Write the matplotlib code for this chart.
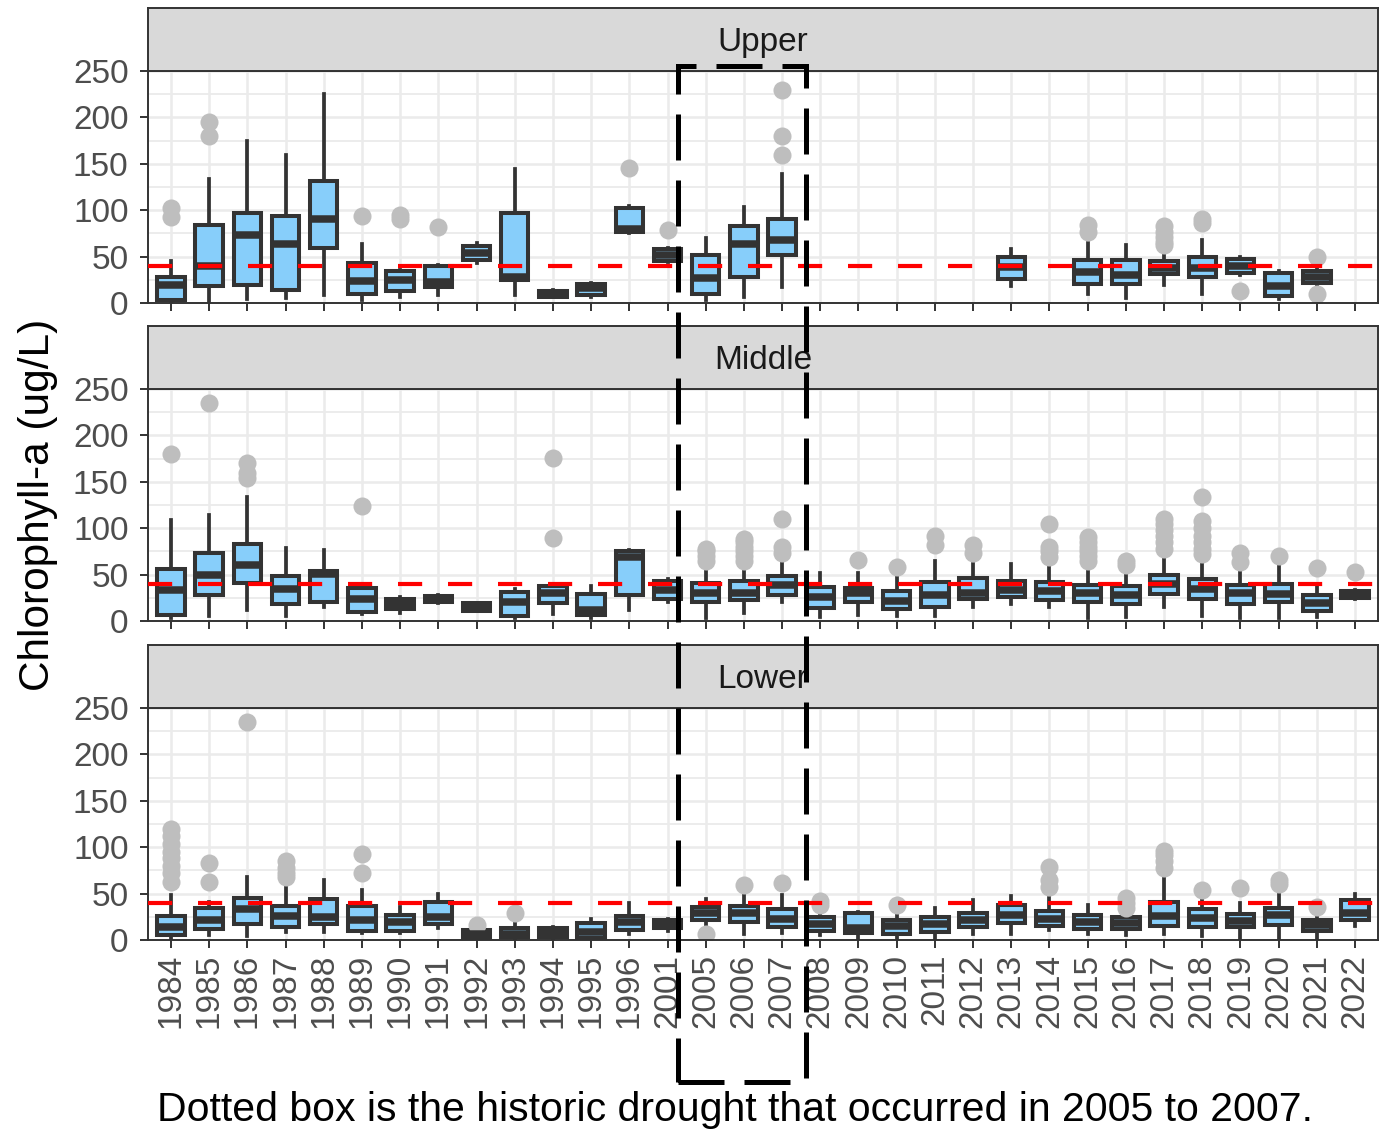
import matplotlib
matplotlib.use('Agg')
import matplotlib.pyplot as plt
from matplotlib.patches import Rectangle

plt.rcParams['font.family'] = ['Liberation Sans', 'DejaVu Sans']

years = ['1984', '1985', '1986', '1987', '1988', '1989', '1990', '1991', '1992',
         '1993', '1994', '1995', '1996', '2001', '2005', '2006', '2007', '2008',
         '2009', '2010', '2011', '2012', '2013', '2014', '2015', '2016', '2017',
         '2018', '2019', '2020', '2021', '2022']

# (whisker low, q1, median, q3, whisker high) per year, None = no samples
upper_box = [
    (0, 3, 19, 28, 45), (1, 18, 40, 84, 134), (4, 19, 73, 97, 175), (5, 14, 64, 94, 159),
    (9, 59, 90, 131, 225), (3, 10, 24, 43, 64), (7, 13, 25, 34, 36), (9, 17, 23, 40, 41),
    (43, 46, 54, 61, 65), (9, 25, 28, 97, 144), (6, 7, 10, 13, 14), (6, 9, 16, 21, 22),
    (75, 76, 80, 102, 104), (44, 45, 52, 58, 59), (3, 10, 27, 52, 70), (7, 28, 64, 83, 103),
    (17, 52, 68, 91, 139), None, None, None, None, None,
    (18, 26, 39, 50, 58), None, (10, 21, 33, 46, 65), (5, 21, 30, 46, 62),
    (19, 31, 38, 45, 59), (10, 28, 38, 50, 68), (30, 32, 40, 47, 50), (4, 8, 18, 32, 35),
    (18, 22, 28, 35, 42), None]
upper_out = [
    [93, 102], [180, 195], [], [], [], [94], [90, 95], [82], [], [], [], [], [145], [79],
    [], [], [159, 180, 230], [], [], [], [], [], [], [], [77, 84], [], [62, 66, 71, 77, 83],
    [86, 91], [13], [], [10, 50], []]

middle_box = [
    (3, 7, 33, 56, 109), (5, 28, 50, 73, 114), (12, 41, 60, 83, 134), (5, 18, 34, 49, 79),
    (15, 21, 51, 54, 76), (8, 10, 24, 36, 38), (9, 13, 18, 24, 26), (19, 20, 23.5, 27, 28),
    (11, 11, 15, 19, 19), (3, 5, 20, 31, 35), (8, 19, 30, 38, 40), (3, 7, 12, 29, 38),
    (12, 28, 69, 75, 77), (20, 24, 33, 43, 45), (3, 21, 30, 41, 56), (9, 23, 30, 43, 61),
    (20, 28, 39, 48, 69), (4, 14, 26, 37, 52), (7, 20, 30, 36, 52), (5, 13, 22, 32, 53),
    (5, 15, 28, 42, 65), (15, 24, 30, 46, 61), (18, 26, 33, 43, 61), (15, 23, 32, 42, 64),
    (3, 20, 30, 39, 58), (4, 18, 28, 38, 58), (15, 29, 40, 50, 75), (5, 24, 34, 45, 69),
    (3, 18, 30, 39, 57), (3, 20, 29, 40, 61), (4, 11, 19, 28, 40), (24, 25, 28, 32, 33)]
middle_out = [
    [180], [235], [154, 159, 170], [], [], [124], [], [], [], [], [89, 176], [], [], [],
    [65, 70, 75, 78], [65, 70, 75, 80, 85, 88], [73, 80, 110], [], [66], [58], [82, 92],
    [73, 82], [], [69, 75, 80, 105], [65, 70, 75, 80, 85, 90], [60, 65],
    [78, 85, 92, 98, 104, 110], [72, 78, 85, 92, 100, 108, 134], [64, 73], [70], [57], [53]]

lower_box = [
    (0, 5, 14, 26, 48), (5, 12, 22, 35, 41), (4, 17, 33, 45, 68), (9, 14, 26, 37, 62),
    (9, 17, 25, 44, 65), (8, 10, 22, 37, 54), (8, 10, 19, 27, 36), (13, 17, 25, 41, 50),
    (0, 2, 6, 11, 12), (0, 3, 7, 13, 18), (0, 3, 8, 13, 14), (0, 2, 9, 18, 23),
    (7, 11, 19, 26, 40), (10, 13, 17, 22, 23), (13, 22, 29, 36, 44), (7, 19, 29, 37, 56),
    (8, 14, 23, 33, 49), (5, 10, 17, 25, 30), (0, 8, 13, 29, 30), (0, 7, 15, 22, 27),
    (0, 9, 17, 25, 35), (7, 14, 22, 29, 43), (7, 18, 27, 38, 47), (11, 15, 23, 31, 45),
    (7, 12, 19, 27, 38), (5, 12, 18, 25, 32), (7, 15, 26, 41, 72), (4, 14, 24, 33, 52),
    (0, 14, 20, 28, 40), (0, 16, 27, 35, 54), (0, 10, 16, 22, 30), (15, 22, 29, 43, 50)]
lower_out = [
    [62, 72, 80, 88, 95, 103, 112, 120], [63, 83], [235], [68, 72, 78, 85], [], [72, 93],
    [], [], [16], [29], [], [], [], [], [7], [59], [61], [38, 42], [], [38], [], [], [],
    [57, 65, 79], [], [35, 40, 45], [78, 85, 92, 96], [54], [56], [60, 65], [36], []]

target = 40
caption = 'Dotted box is the historic drought that occurred in 2005 to 2007.'

W, H = 1383, 1132
fig = plt.figure(figsize=(W / 100, H / 100), dpi=100)
fig.patch.set_facecolor('white')

left, right = 148, 1378
# name, box stats, outliers, strip top, panel top, panel bottom (pixels)
panels = [('Upper', upper_box, upper_out, 8, 71, 303),
          ('Middle', middle_box, middle_out, 326, 389, 621),
          ('Lower', lower_box, lower_out, 645, 708, 940)]

dark = '#333333'
for n, (name, boxes, outs, stop, top, bot) in enumerate(panels):
    ax = fig.add_axes([left / W, 1 - bot / H, (right - left) / W, (bot - top) / H])
    sax = fig.add_axes([left / W, 1 - top / H, (right - left) / W, (top - stop) / H])

    pos = [i for i, b in enumerate(boxes) if b is not None]
    stats = [dict(whislo=boxes[i][0], q1=boxes[i][1], med=boxes[i][2], q3=boxes[i][3],
                  whishi=boxes[i][4], fliers=outs[i]) for i in pos]
    ax.bxp(stats, positions=pos, widths=0.72, patch_artist=True, showcaps=False,
           manage_ticks=False,
           boxprops=dict(facecolor='#87CEFA', edgecolor=dark, linewidth=2.9, joinstyle='miter'),
           medianprops=dict(color=dark, linewidth=5.4, solid_capstyle='butt'),
           whiskerprops=dict(color=dark, linewidth=2.7),
           flierprops=dict(marker='o', markerfacecolor='#BEBEBE', markeredgecolor='none',
                           markersize=13))
    ax.axhline(target, color='red', lw=3, linestyle=(0, (5.8, 6.2)), zorder=5)

    ax.set_xlim(-0.6, len(years) - 0.4)
    ax.set_ylim(0, 250)
    ax.set_yticks(range(0, 251, 50))
    ax.set_yticks(range(25, 250, 50), minor=True)
    ax.set_xticks(range(len(years)))
    ax.set_axisbelow(True)
    ax.grid(which='major', color='#EBEBEB', lw=1.8)
    ax.grid(which='minor', axis='y', color='#EBEBEB', lw=1.3)
    ax.tick_params(which='major', length=6, width=1.4, color=dark, labelsize=24,
                   labelcolor='#4D4D4D', pad=4)
    ax.tick_params(axis='y', which='major', pad=8)
    ax.tick_params(which='minor', length=0)
    if n == 2:
        ax.set_xticklabels(years, rotation=90)
    else:
        ax.set_xticklabels([])
    for sp in ax.spines.values():
        sp.set_color(dark)
        sp.set_linewidth(1.4)

    sax.set_facecolor('#D9D9D9')
    sax.set_xticks([])
    sax.set_yticks([])
    for sp in sax.spines.values():
        sp.set_color(dark)
        sp.set_linewidth(1.4)
    sax.text(0.5, 0.46, name, transform=sax.transAxes, ha='center', va='center',
             fontsize=24, color='#1A1A1A')

fig.text(38 / W, 1 - 505 / H, 'Chlorophyll-a (ug/L)', rotation=90, ha='center',
         va='center', fontsize=30.5, color='black')

cap = fig.text(157 / W, 1 - 1121 / H, caption, ha='left', va='baseline', fontsize=30,
               color='black')
fig.canvas.draw()
wpx = cap.get_window_extent().width
cap.set_fontsize(30 * 1156 / wpx)

# drought box 2005-2007
fig.add_artist(Rectangle((678 / W, 1 - 1082 / H), (806 - 678) / W, (1082 - 66) / H,
                         transform=fig.transFigure, fill=False, edgecolor='black',
                         lw=3.6, linestyle=(0, (9.2, 4)), zorder=10))

fig.savefig('out.png', dpi=100)
